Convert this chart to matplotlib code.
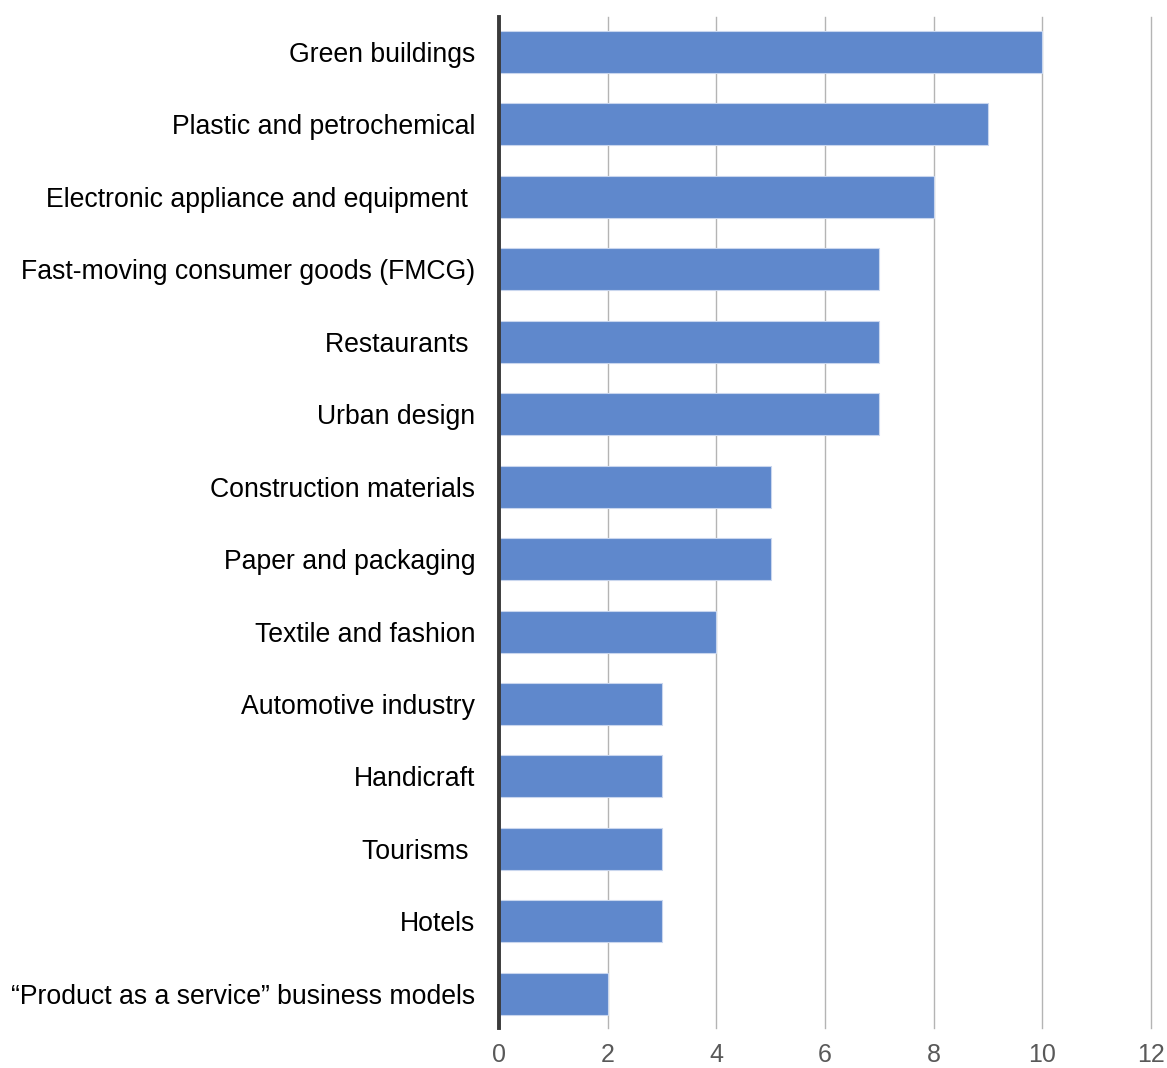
import matplotlib
matplotlib.use("Agg")
from matplotlib import pyplot as plt

sectors = [
    "Green buildings",
    "Plastic and petrochemical",
    "Electronic appliance and equipment ",
    "Fast-moving consumer goods (FMCG)",
    "Restaurants ",
    "Urban design",
    "Construction materials",
    "Paper and packaging",
    "Textile and fashion",
    "Automotive industry",
    "Handicraft",
    "Tourisms ",
    "Hotels",
    "\u201cProduct as a service\u201d business models",
]
counts = [10, 9, 8, 7, 7, 7, 5, 5, 4, 3, 3, 3, 3, 2]
x_ticks = [0, 2, 4, 6, 8, 10, 12]

plt.rcParams['font.family'] = ['Liberation Sans', 'DejaVu Sans']

fig = plt.figure(figsize=(11.67, 10.68), dpi=100)
ax = fig.add_axes([0.4276, 0.0375, 0.5587, 0.9466])

pos = list(range(len(sectors)))
ax.barh(pos, counts, height=0.58, color='#5f88cc',
        edgecolor='#c9d6ee', linewidth=0.8, zorder=3)

ax.set_xlim(0, 12)
ax.set_ylim(13.47, -0.48)
ax.set_xticks(x_ticks)
ax.set_xticklabels([str(t) for t in x_ticks], fontsize=18, color='#595959')
ax.set_yticks(pos)
ax.set_yticklabels(sectors, fontsize=19.2, color='black')
ax.tick_params(axis='y', length=0, pad=17)
ax.tick_params(axis='x', length=0, pad=11)

ax.grid(axis='x', color='#b4b4b4', linewidth=1.0, zorder=0)
for gl in ax.xaxis.get_gridlines():
    gl.set_clip_on(False)
for side in ('top', 'right', 'bottom'):
    ax.spines[side].set_visible(False)
ax.spines['left'].set_color('#3a3a3a')
ax.spines['left'].set_linewidth(2.8)
ax.spines['left'].set_zorder(4)

fig.savefig('out.png', dpi=100)
